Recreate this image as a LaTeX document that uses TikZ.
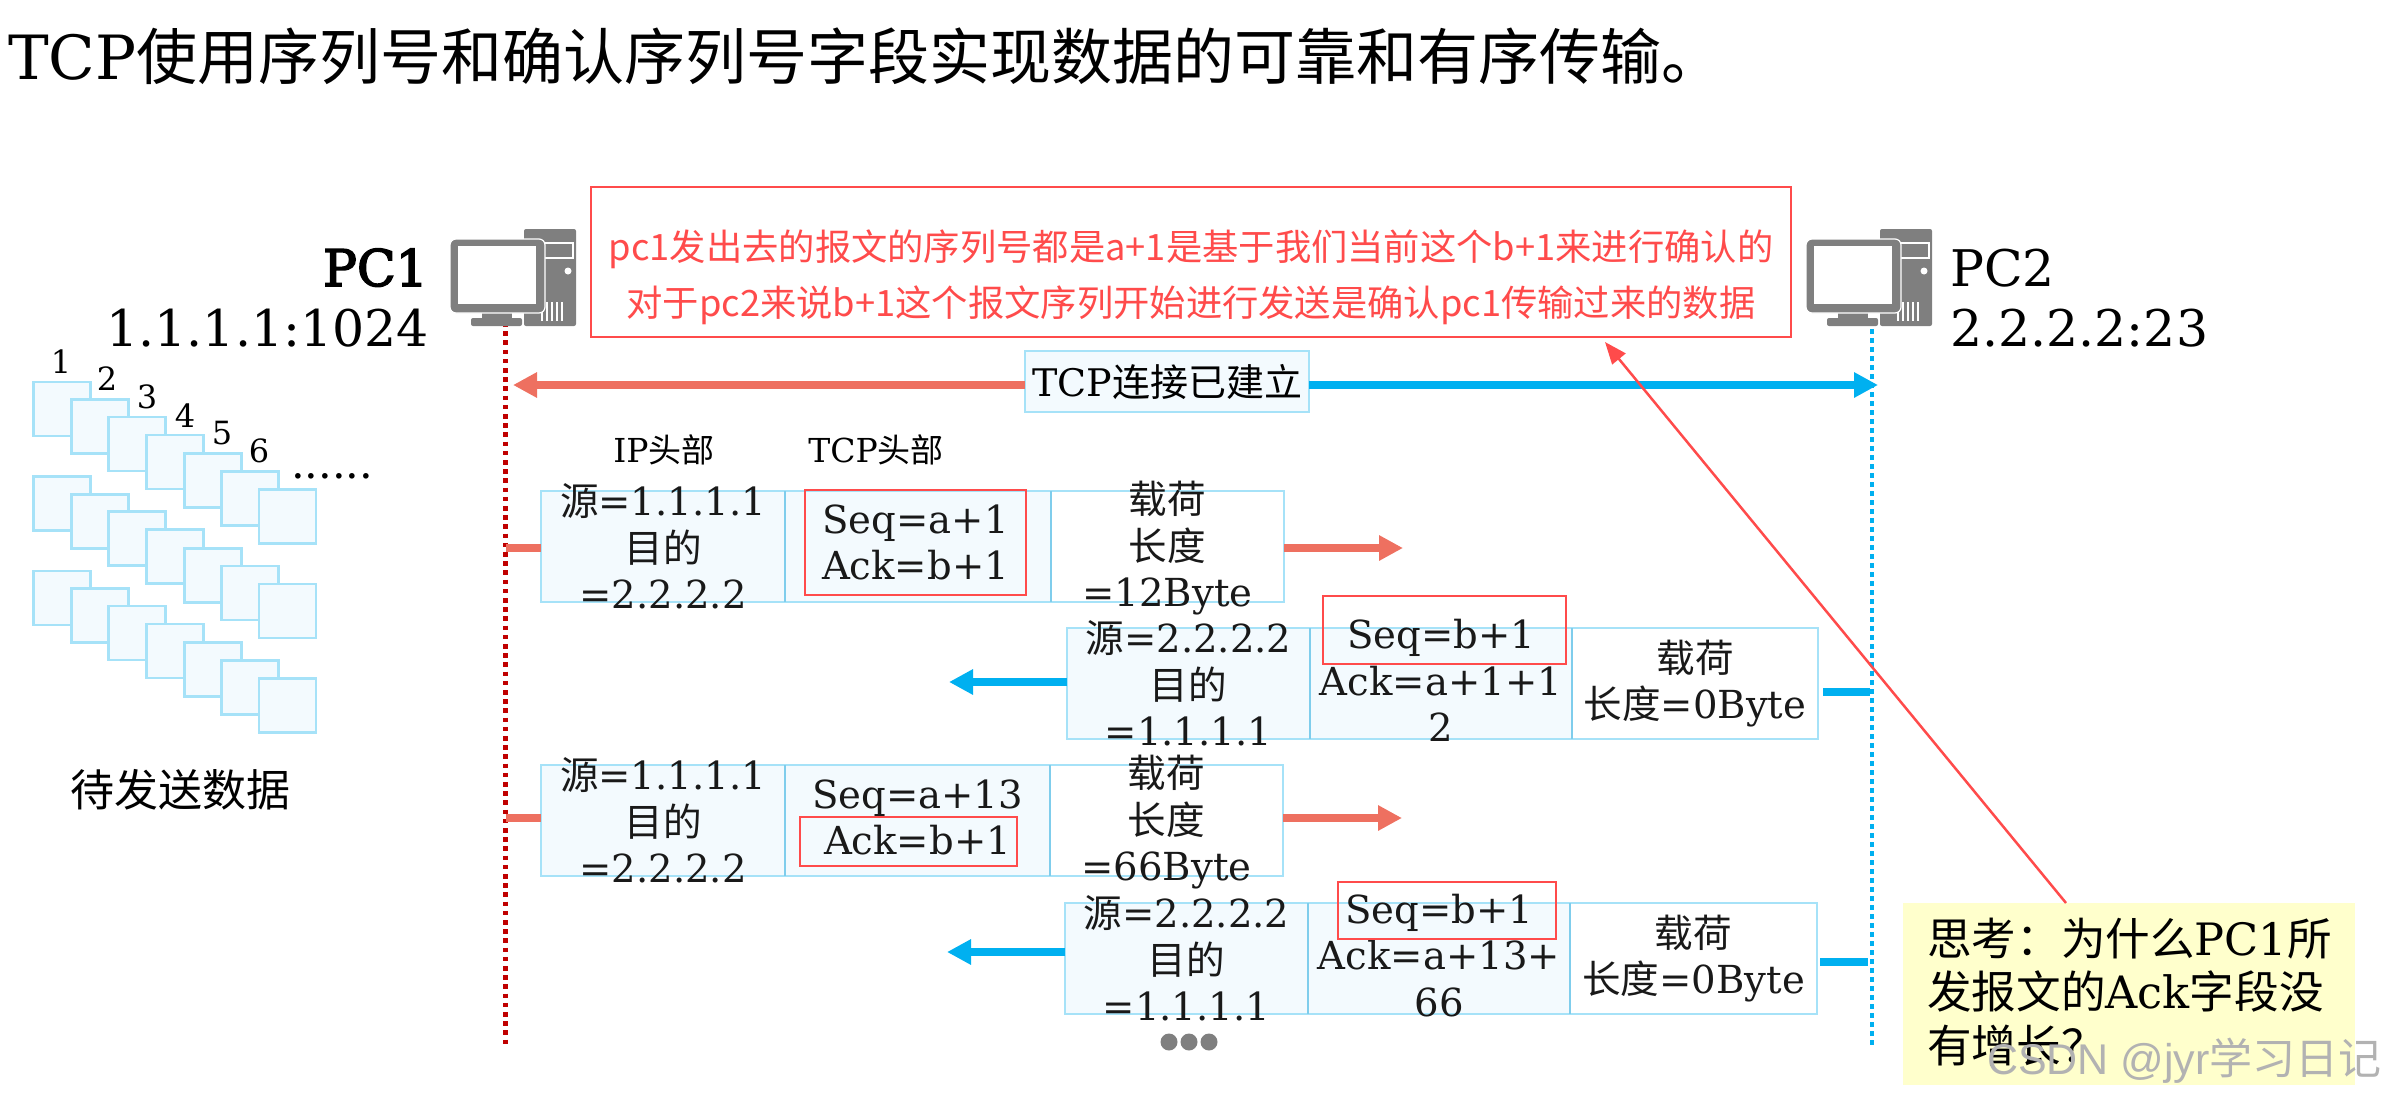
\documentclass[tikz,border=0pt]{standalone}
\usepackage{fontspec}
\setmainfont{DejaVu Serif}
\newfontfamily\cjk{Noto Sans CJK SC}
\newfontfamily\latinbold[FakeBold=3]{DejaVu Serif}
\newfontfamily\wmfont{Liberation Sans}
\usetikzlibrary{arrows.meta,calc}
\definecolor{salmon}{HTML}{EE7060}
\definecolor{cyanline}{HTML}{00B0F0}
\definecolor{darkred}{HTML}{C00000}
\definecolor{redmark}{HTML}{FF4B4B}
\definecolor{pagefill}{HTML}{F3FAFE}
\definecolor{pageline}{HTML}{A6E2F8}
\definecolor{divline}{HTML}{7FCDEC}
\definecolor{notefill}{HTML}{FFFFCC}
\definecolor{icongray}{HTML}{7F7F7F}
\newcommand{\C}[1]{{\cjk #1}}
\newcommand{\fs}[2]{\fontsize{#1}{#2}\selectfont}
\newcommand{\pcell}[7][0]{%
  \node[#6,minimum width=#5pt] (#2) at (#3,#4) {};
  \node[celltext,yshift=#1pt] (#2t) at (#2.center) {#7};}
\tikzset{
  x=1pt,y=-1pt,
  celltext/.style={font=\fs{38.6}{46.5},align=center,inner sep=0pt,text=black!90},
  cell/.style={draw=pageline,line width=2.6pt,fill=pagefill,minimum height=111pt,anchor=north west,inner sep=0pt,outer sep=0pt},
  paycell/.style={cell,fill=white},
  redbox/.style={draw=redmark,line width=2.6pt,inner sep=0pt,outer sep=0pt,anchor=north west},
  divider/.style={draw=divline,line width=1.8pt},
  stub/.style={line width=8pt},
  fat/.style={line width=8pt,-{Triangle[length=24pt,width=24pt]}},
  pagebox/.style={draw=pageline,line width=2.6pt,fill=pagefill,minimum width=57pt,minimum height=54pt,anchor=north west,inner sep=0pt,outer sep=0pt},
  num/.style={font=\fs{32}{38},inner sep=0pt},
  plain/.style={inner sep=0pt},
  dotball/.style={circle,fill=icongray,inner sep=0pt,minimum size=17pt},
  pcicon/.pic={
    \fill[icongray,rounded corners=2pt] (74,-10) rectangle (126,87);
    \draw[white,line width=1.2pt] (93,4) rectangle (123,19);
    \fill[white] (118,32) circle (3.5);
    \foreach \vx in {92,97,102,107,112}{\draw[white,line width=1.1pt] (\vx,63) -- (\vx,82);}
    \fill[icongray] (32,72) rectangle (62,82);
    \fill[icongray,rounded corners=2pt] (21,79) rectangle (72,87);
    \filldraw[fill=icongray,draw=white,line width=1.2pt,rounded corners=6pt] (0,0) rectangle (95,74);
    \fill[white] (8,7) rectangle (86,65);
  }
}
\begin{document}
\begin{tikzpicture}
\useasboundingbox (0,0) rectangle (2384,1100);

% title
\node[plain,anchor=base west,font=\fs{61}{70}] (title) at (8,79) {TCP\C{使用序列号和确认序列号字段实现数据的可靠和有序传输。}};

% lifelines
\coordinate (life1top) at (505.5,322);
\coordinate (life1bot) at (505.5,1048);
\coordinate (life2top) at (1872,320);
\coordinate (life2bot) at (1872,1048);
\draw[darkred,line width=4.5pt,dash pattern=on 4.5pt off 4.7pt] (life1top) -- (life1bot);
\draw[cyanline,line width=4pt,dash pattern=on 4.5pt off 4.5pt] (life2top) -- (life2bot);

% computers
\pic at (450,239) {pcicon};
\pic at (1806,239) {pcicon};
\node[plain,anchor=base east,font=\fs{50.5}{56}\latinbold] (pc1) at (428,286) {PC1};
\node[plain,anchor=base east,font=\fs{50.5}{56}] (ip1) at (429,346) {1.1.1.1:1024};
\node[plain,anchor=base west,font=\fs{50.5}{56}] (pc2) at (1950,286) {PC2};
\node[plain,anchor=base west,font=\fs{50.5}{56}] (ip2) at (1950,346) {2.2.2.2:23};

% red explanation
\node[redbox,fill=white,minimum width=1200pt,minimum height=150pt] (explain) at (591,187) {};
\node[plain,align=center,text=redmark,font=\fs{36.3}{56}\cjk,yshift=-15pt] (explaintext) at (explain.center)
  {pc1发出去的报文的序列号都是a+1是基于我们当前这个b+1来进行确认的\\对于pc2来说b+1这个报文序列开始进行发送是确认pc1传输过来的数据};

% connection banner
\coordinate (bannerL) at (513,385);
\coordinate (bannerR) at (1878,385);
\node[draw=pageline,line width=2.6pt,fill=pagefill,minimum width=284pt,minimum height=61pt,inner sep=0pt,outer sep=0pt,font=\fs{38}{44}] (banner) at (1167,381.5) {TCP\C{连接已建立}};
\draw[fat,salmon] (banner.west |- bannerL) -- (bannerL);
\draw[fat,cyanline] (banner.east |- bannerR) -- (bannerR);

% pending pages
\foreach \rowtop [count=\r] in {382,476.7,571}{
  \foreach \px/\py [count=\k] in {33.6/0,71.6/17.6,108.7/35,146.3/53,184.3/71.5,221.4/89.4,259/107.4}{
    \node[pagebox] (page\r-\k) at (\px,\rowtop+\py) {};
  }
}
\node[num] (n1) at (61,361.6) {1};
\node[num] (n2) at (107,379) {2};
\node[num] (n3) at (147,397) {3};
\node[num] (n4) at (185,416) {4};
\node[num] (n5) at (222,433) {5};
\node[num] (n6) at (259,451) {6};
\node[plain,anchor=base west,font=\fs{43}{50}] (more) at (291,478) {......};
\node[plain,font=\fs{44}{50}\cjk] (pending) at (180,790) {待发送数据};

% column titles
\node[plain,font=\fs{33}{40}] (iphead) at (664,450) {IP\C{头部}};
\node[plain,font=\fs{33}{40}] (tcphead) at (876,450) {TCP\C{头部}};

% packet 1
\pcell{a1}{541}{491}{244}{cell}{\C{源}=1.1.1.1\\\C{目的}\\=2.2.2.2}
\pcell{b1}{785}{491}{266}{cell}{}
\pcell[-2]{c1}{1051}{491}{233}{paycell}{\C{载荷}\\\C{长度}\\=12Byte}
\node[redbox,celltext,minimum width=221pt,minimum height=105pt,anchor=north west] (m1) at (805,490) {Seq=a+1\\Ack=b+1};
\coordinate (s1) at (505.5,548);
\coordinate (t1) at (1403,548);
\draw[stub,salmon] (s1) -- (a1.west |- s1);
\draw[fat,salmon] (c1.east |- t1) -- (t1);

% packet 2
\pcell{a2}{1067}{628}{243}{cell}{\C{源}=2.2.2.2\\\C{目的}\\=1.1.1.1}
\pcell[3]{b2}{1310}{628}{262}{cell}{Seq=b+1\\Ack=a+1+1\\2}
\pcell{c2}{1572}{628}{246}{paycell}{\C{载荷}\\\C{长度}=0Byte}
\node[redbox,minimum width=243pt,minimum height=68pt] (m2) at (1323,596) {};
\coordinate (s2) at (1823,692);
\coordinate (e2) at (1870,692);
\coordinate (t2) at (949,682);
\draw[stub,cyanline] (s2) -- (e2);
\draw[fat,cyanline] (a2.west |- t2) -- (t2);

% packet 3
\pcell{a3}{541}{765}{244}{cell}{\C{源}=1.1.1.1\\\C{目的}\\=2.2.2.2}
\pcell[3]{b3}{785}{765}{265}{cell}{Seq=a+13\\Ack=b+1}
\pcell[-2]{c3}{1050}{765}{233}{paycell}{\C{载荷}\\\C{长度}\\=66Byte}
\node[redbox,minimum width=217pt,minimum height=49pt] (m3) at (800,817) {};
\coordinate (s3) at (505.5,818);
\coordinate (t3) at (1402,818);
\draw[stub,salmon] (s3) -- (a3.west |- s3);
\draw[fat,salmon] (c3.east |- t3) -- (t3);

% packet 4
\pcell{a4}{1065}{903}{243}{cell}{\C{源}=2.2.2.2\\\C{目的}\\=1.1.1.1}
\pcell[3]{b4}{1308}{903}{262}{cell}{Seq=b+1\\Ack=a+13+\\66}
\pcell{c4}{1570}{903}{247}{paycell}{\C{载荷}\\\C{长度}=0Byte}
\node[redbox,minimum width=218pt,minimum height=57pt] (m4) at (1338,882) {};
\coordinate (s4) at (1820,962);
\coordinate (e4) at (1868,962);
\coordinate (t4) at (947,952);
\draw[stub,cyanline] (s4) -- (e4);
\draw[fat,cyanline] (a4.west |- t4) -- (t4);

% cell dividers
\foreach \q in {a1,b1,a2,b2,a3,b3,a4,b4}{
  \draw[divider] (\q.north east) -- (\q.south east);
}

% continuation dots
\node[dotball] (d1) at (1169,1042) {};
\node[dotball] (d2) at (1189,1042) {};
\node[dotball] (d3) at (1209,1042) {};

% note
\node[fill=notefill,minimum width=452pt,minimum height=182pt,anchor=north west,inner sep=0pt,outer sep=0pt] (note) at (1903,903) {};
\node[plain,anchor=west,align=left,font=\fs{44.6}{53.5}] (notetext) at (1927,992)
 {\C{思考：为什么}PC1\C{所}\\\C{发报文的}Ack\C{字段没}\\\C{有增长？}};
\draw[redmark,line width=2.5pt,-{Triangle[length=22pt,width=17pt]}] ([xshift=-63pt]note.north) -- ([xshift=414pt,yshift=-5pt]explain.south);

% watermark
\node[plain,anchor=base east,text=black!30,font=\fs{43}{50}\wmfont] (wm) at (2382,1074) {CSDN @jyr\C{学习日记}};
\end{tikzpicture}
\end{document}
